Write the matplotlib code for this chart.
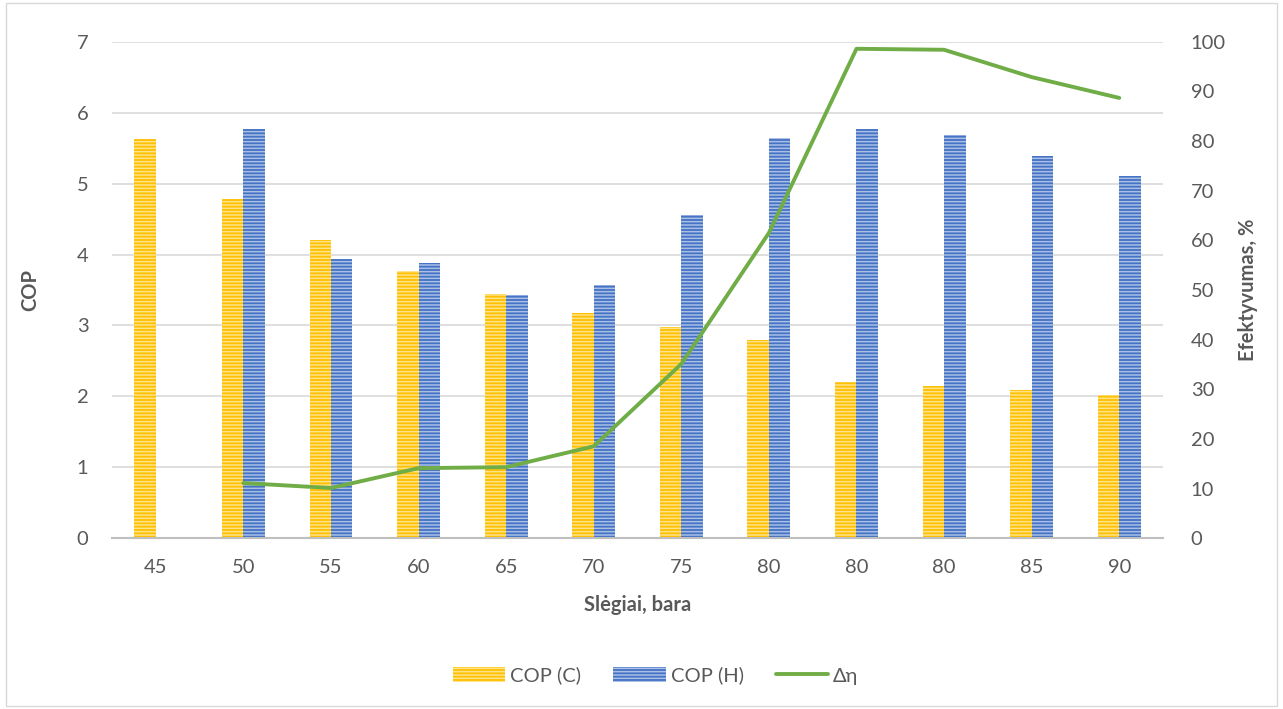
import matplotlib
matplotlib.use('Agg')

import numpy as np
import matplotlib.pyplot as plt
from matplotlib.patches import Rectangle

pressures = ["45", "50", "55", "60", "65", "70", "75", "80", "80", "80", "85", "90"]
cop_c = [5.63, 4.78, 4.21, 3.77, 3.44, 3.18, 2.98, 2.79, 2.20, 2.15, 2.09, 2.02]
cop_h = [np.nan, 5.77, 3.94, 3.88, 3.43, 3.57, 4.56, 5.64, 5.77, 5.69, 5.39, 5.11]
d_eta = [np.nan, 11.1, 10.1, 14.1, 14.3, 18.5, 35.1, 61.5, 98.6, 98.4, 92.9, 88.7]

text_color = "#595959"
plt.rcParams.update({
    'font.family': ['Lato', 'DejaVu Sans'],
    'font.size': 14.5,
    'hatch.linewidth': 1.1,
    'text.color': text_color,
    'axes.labelcolor': text_color,
    'xtick.color': text_color,
    'ytick.color': text_color,
})

fig = plt.figure(figsize=(12.83, 7.09), dpi=100)
ax = fig.add_axes([0.0873, 0.241, 0.8192, 0.700])

xs = np.arange(len(pressures))
w = 0.245
ax.bar(xs - w / 2, cop_c, width=w, color="#FFC000", edgecolor="#FFE38A",
       hatch="-----", linewidth=0, label="COP (C)", zorder=2)
ax.bar(xs + w / 2, cop_h, width=w, color="#4472C4", edgecolor="#A9BFE6",
       hatch="-----", linewidth=0, label="COP (H)", zorder=2)

ax.set_xlim(-0.5, len(pressures) - 0.5)
ax.set_ylim(0, 7)
ax.set_yticks(range(0, 8))
ax.set_xticks(xs)
ax.set_xticklabels(pressures)
ax.grid(axis='y', color="#D9D9D9", linewidth=1.2, zorder=0)
ax.set_axisbelow(True)
for side in ("top", "left", "right"):
    ax.spines[side].set_visible(False)
ax.spines["bottom"].set_color("#BFBFBF")
ax.spines["bottom"].set_linewidth(1.5)
ax.tick_params(axis='x', length=0, pad=15)
ax.tick_params(axis='y', length=0, pad=17)
ax.set_ylabel("COP", fontweight='bold', labelpad=26)
ax.set_xlabel("Slėgiai, bara", fontweight='bold', labelpad=14)

ax2 = ax.twinx()
ax2.plot(xs, d_eta, color="#70AD47", linewidth=2.8, label="Δη",
         solid_capstyle='round', zorder=3)
ax2.set_ylim(0, 100)
ax2.set_yticks(range(0, 101, 10))
for side in ("top", "left", "right", "bottom"):
    ax2.spines[side].set_visible(False)
ax2.tick_params(axis='y', length=0, pad=20)
ax2.set_ylabel("Efektyvumas, %", fontweight='bold', labelpad=9)

handles = ax.get_legend_handles_labels()[0] + ax2.get_legend_handles_labels()[0]
labels = ["COP (C)", "COP (H)", "Δη"]
fig.legend(handles, labels, loc='center', bbox_to_anchor=(0.511, 0.047),
           ncol=3, frameon=False, handlelength=2.6, handleheight=0.8,
           columnspacing=1.6, handletextpad=0.25, fontsize=14.5)

fig.add_artist(Rectangle((0.005, 0.004), 0.99, 0.992, transform=fig.transFigure,
                         fill=False, edgecolor="#D9D9D9", linewidth=1))

fig.savefig("out.png", dpi=100)
